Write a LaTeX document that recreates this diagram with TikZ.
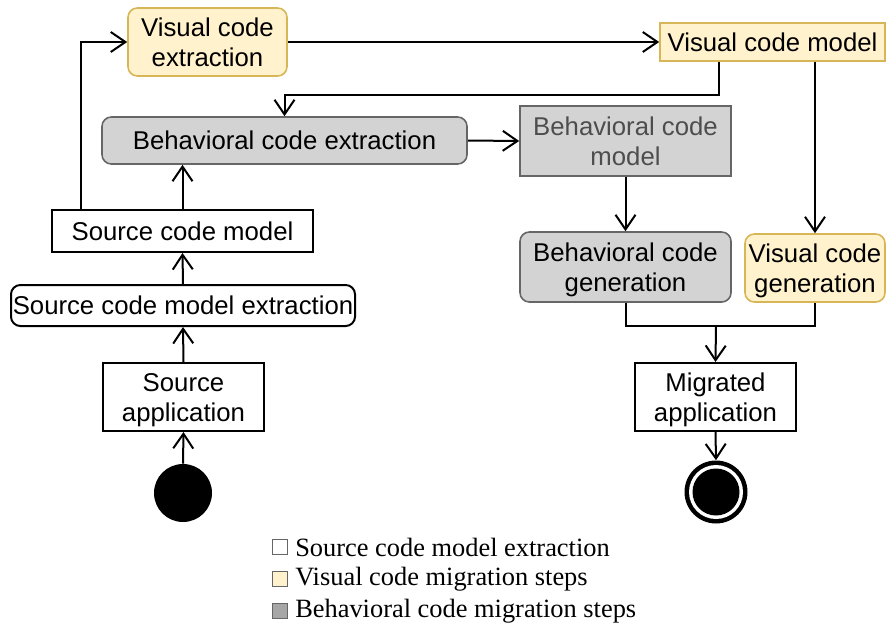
\documentclass[tikz,border=0pt]{standalone}
\usepackage{fontspec}
\setmainfont{Liberation Sans}
\newfontfamily\legendfont{Liberation Serif}
\usetikzlibrary{arrows.meta,calc}
\definecolor{yfill}{HTML}{FFF2CC}
\definecolor{ydraw}{HTML}{D6B656}
\definecolor{gfill}{HTML}{D3D3D3}
\definecolor{gdraw}{HTML}{666666}
\definecolor{gtext}{HTML}{4D4D4D}
\definecolor{lgrey}{HTML}{A6A6A6}
\newcommand\topstrutx{\rule{0pt}{18.5pt}}
\newcommand\botstrutx{\rule[-5pt]{0pt}{5pt}}
\newcommand\twolines[2]{\topstrutx#1\\#2\botstrutx}
\begin{document}
\begin{tikzpicture}[x=0.75pt,y=-0.75pt,
  box/.style={draw, line width=1.5pt, inner sep=0pt, align=center,
    font=\fontsize{19.3}{22.5}\selectfont},
  rbox/.style={box, rounded corners=7pt},
  yel/.style={fill=yfill, draw=ydraw, line width=1.2pt},
  gry/.style={fill=gfill, draw=gdraw, line width=1.2pt},
  arr/.style={line width=1.5pt, -{Straight Barb[length=11pt,width=15pt,line width=1.5pt]}},
  ln/.style={line width=1.5pt},
  lsq/.style={draw=gdraw, line width=0.5pt, minimum size=11.5pt, inner sep=0pt},
  ltext/.style={anchor=west, inner sep=0pt, font=\legendfont\fontsize{19.8}{22}\selectfont}
]
\useasboundingbox (0,0) rectangle (886,628);

\node[rbox, yel, minimum width=159*0.75pt, minimum height=68*0.75pt] (vce) at (207.5,42) {\twolines{Visual code}{extraction}};
\node[box, yel, minimum width=225*0.75pt, minimum height=38*0.75pt] (vcm) at (772.5,42) {Visual code model};
\node[rbox, gry, minimum width=365*0.75pt, minimum height=47*0.75pt] (bce) at (284.5,140.5) {Behavioral code extraction};
\node[box, gry, text=gtext, minimum width=211*0.75pt, minimum height=70*0.75pt] (bcm) at (625.5,141) {\twolines{Behavioral code}{model}};
\node[rbox, gry, minimum width=211*0.75pt, minimum height=70*0.75pt] (bcg) at (625.5,267) {\twolines{Behavioral code}{generation}};
\node[rbox, yel, minimum width=140*0.75pt, minimum height=68*0.75pt] (vcg) at (815,268) {\twolines{Visual code}{generation}};
\node[box, minimum width=261*0.75pt, minimum height=42*0.75pt] (scm) at (182.5,231) {Source code model};
\node[rbox, minimum width=344*0.75pt, minimum height=41*0.75pt] (scme) at (183,305.5) {Source code model extraction};
\node[box, minimum width=161*0.75pt, minimum height=68*0.75pt] (sa) at (183.5,397) {\twolines{Source}{application}};
\node[box, minimum width=161*0.75pt, minimum height=68*0.75pt] (ma) at (715.5,397) {\twolines{Migrated}{application}};

\node[circle, fill=black, minimum size=58*0.75pt, inner sep=0pt] (start) at (183,493) {};
\node[circle, fill=black, minimum size=63*0.75pt, inner sep=0pt] (end) at (716,492) {};
\fill[white] (end.center) circle (27*0.75pt);
\fill[black] (end.center) circle (23.5*0.75pt);

\coordinate (merge) at (716,326);

\draw[arr] (start.north) -- (sa.south);
\draw[arr] (sa.north) -- (scme.south);
\draw[arr] (scme.north) -- (scm.south);
\draw[arr] (scm.north) -- (bce.south -| scm.north);
\draw[arr] ($(scm.north west)+(30,0)$) |- (vce.west);
\draw[arr] (vce.east) -- (vcm.west);
\draw[arr] ($(vcm.south west)+(60,0)$) -- ++(0,33) -| (bce.north);
\draw[arr] (bce.east) -- (bcm.west);
\draw[arr] (bcm.south) -- (bcg.north);
\draw[arr] (vcg.north |- vcm.south) -- (vcg.north);
\draw[ln] (bcg.south) |- (merge) -| (vcg.south);
\draw[arr] (merge) -- (ma.north);
\draw[arr] (ma.south) -- (end.north);

\node[lsq, fill=white] (l1) at (279.5,547) {};
\node[lsq, fill=yfill] (l2) at (279.5,579) {};
\node[lsq, fill=lgrey] (l3) at (279.5,611) {};
\node[ltext] (t1) at (295,547) {Source code model extraction};
\node[ltext] (t2) at (295,579) {Visual code migration steps};
\node[ltext] (t3) at (295,611) {Behavioral code migration steps};
\end{tikzpicture}
\end{document}
